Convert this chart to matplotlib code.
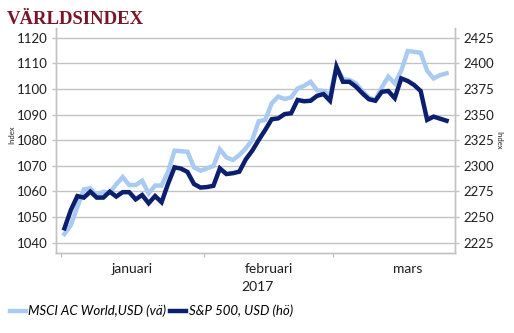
import matplotlib
matplotlib.use("Agg")
import matplotlib.pyplot as plt
import matplotlib.transforms as mtransforms

# daily values (weekdays, 2 Jan - 24 Mar 2017)
msci_world = [1043.4, 1046.9, 1054.0, 1060.8, 1061.2, 1058.4, 1059.9, 1059.5, 1062.8, 1065.6,
              1062.5, 1062.5, 1064.2, 1059.2, 1062.3, 1062.3, 1067.7, 1075.9, 1075.7, 1075.5,
              1069.4, 1068.1, 1069.0, 1069.9, 1076.4, 1073.3, 1072.3, 1074.2, 1076.8, 1080.1,
              1087.4, 1087.9, 1094.4, 1097.0, 1096.1, 1096.7, 1100.2, 1101.2, 1102.8, 1099.5,
              1099.2, 1097.6, 1108.4, 1103.9, 1103.5, 1102.2, 1099.2, 1096.6, 1095.7, 1100.6,
              1104.8, 1102.2, 1107.1, 1114.8, 1114.5, 1114.1, 1107.1, 1104.1, 1105.4, 1106.1]
sp500 = [2239.0, 2257.0, 2270.5, 2269.0, 2274.8, 2269.0, 2269.0, 2274.8, 2270.0, 2274.3,
         2274.3, 2267.3, 2271.5, 2263.5, 2270.5, 2264.5, 2282.5, 2298.5, 2297.3, 2294.0,
         2282.3, 2278.8, 2279.3, 2280.5, 2297.5, 2292.0, 2292.8, 2294.3, 2306.3, 2314.8,
         2325.3, 2335.0, 2345.5, 2346.3, 2350.5, 2351.3, 2364.3, 2363.0, 2363.5, 2368.3,
         2370.0, 2363.5, 2396.8, 2382.0, 2382.0, 2377.3, 2370.8, 2365.0, 2363.5, 2372.3,
         2373.0, 2366.0, 2385.3, 2382.8, 2378.8, 2373.0, 2344.8, 2348.0, 2346.0, 2344.0]
months = ["januari", "februari", "mars"]
days_in_month = [22, 20, 23]   # weekday categories per month (mars runs to 31 Mar)
year_label = "2017"
left_ticks = [1040, 1050, 1060, 1070, 1080, 1090, 1100, 1110, 1120]
right_ticks = [2225, 2250, 2275, 2300, 2325, 2350, 2375, 2400, 2425]

LIGHT = "#a9cbf2"
DARK = "#0c1f6e"
GRID = "#c3c3c3"
TXT = "#1e1e1e"

W, H = 514, 333
plt.rcParams["font.family"] = ["Lato", "DejaVu Sans"]

fig = plt.figure(figsize=(W / 100, H / 100), dpi=100)
# plot area in pixels
ax_l, ax_r, ax_t, ax_b = 56, 455, 28.3, 253.3
ax = fig.add_axes([ax_l / W, 1 - ax_b / H, (ax_r - ax_l) / W, (ax_b - ax_t) / H])
ax2 = ax.twinx()

x = list(range(len(msci_world)))
ax.plot(x, msci_world, color=LIGHT, lw=3.2, solid_joinstyle="miter", zorder=3)
ax2.plot(x, sp500, color=DARK, lw=3.2, solid_joinstyle="miter", zorder=3)

ax.set_ylim(1035.86, 1123.67)
ax2.set_ylim(2214.65, 2434.2)
ax.set_xlim(-1.3, 60.3)

ax.set_yticks(left_ticks)
ax2.set_yticks(right_ticks)
ax.yaxis.grid(True, color=GRID, lw=1.0)
ax.set_axisbelow(True)

# month boundaries as ticks, month names centred in between
bounds = [-0.5]
for n in days_in_month:
    bounds.append(bounds[-1] + n)
ax.set_xticks(bounds[:-1])
ax.set_xticklabels([])
centers = [(bounds[i] + bounds[i + 1]) / 2 for i in range(len(months))]
ax.set_xticks(centers, minor=True)
ax.set_xticklabels(months, minor=True, fontsize=10, color=TXT)
ax.tick_params(axis="x", which="major", length=3, color=GRID, width=1)
ax.tick_params(axis="x", which="minor", length=0, pad=7)

ax.tick_params(axis="y", length=3, color=GRID, width=1, labelsize=9.5, labelcolor=TXT, pad=3)
ax2.tick_params(axis="y", length=3, color=GRID, width=1, labelsize=9.5, labelcolor=TXT, pad=3)

for a in (ax, ax2):
    a.spines["top"].set_visible(False)
    for s in ("left", "right", "bottom"):
        a.spines[s].set_color(GRID)
        a.spines[s].set_linewidth(1.0)

# year label under the months
trans = mtransforms.blended_transform_factory(ax.transData, fig.transFigure)
ax.text(29.8, 1 - 287 / H, year_label, transform=trans, ha="center", va="center",
        fontsize=10, color=TXT)

fig.text(12 / W, 1 - 135 / H, "Index", rotation=90, ha="center", va="center",
         fontsize=5.5, color=TXT)
fig.text(499 / W, 1 - 140 / H, "Index", rotation=-90, ha="center", va="center",
         fontsize=5.5, color=TXT)

fig.text(7 / W, 1 - 24 / H, "VÄRLDSINDEX", ha="left", va="baseline",
         fontsize=13.5, fontweight="bold", family="Liberation Serif", color="#7b1426")

h1, = ax.plot([], [], color=LIGHT, lw=3.2)
h2, = ax.plot([], [], color=DARK, lw=3.2)
fig.legend([h1, h2], ["MSCI AC World,USD (vä)", "S&P 500, USD (hö)"],
           loc="center left", bbox_to_anchor=(10 / W, 1 - 311 / H), ncol=2,
           frameon=False, handlelength=1.2, handletextpad=0.2, columnspacing=0.3,
           borderpad=0, borderaxespad=0, prop={"style": "italic", "size": 9.5})

fig.savefig("out.png", dpi=100)
